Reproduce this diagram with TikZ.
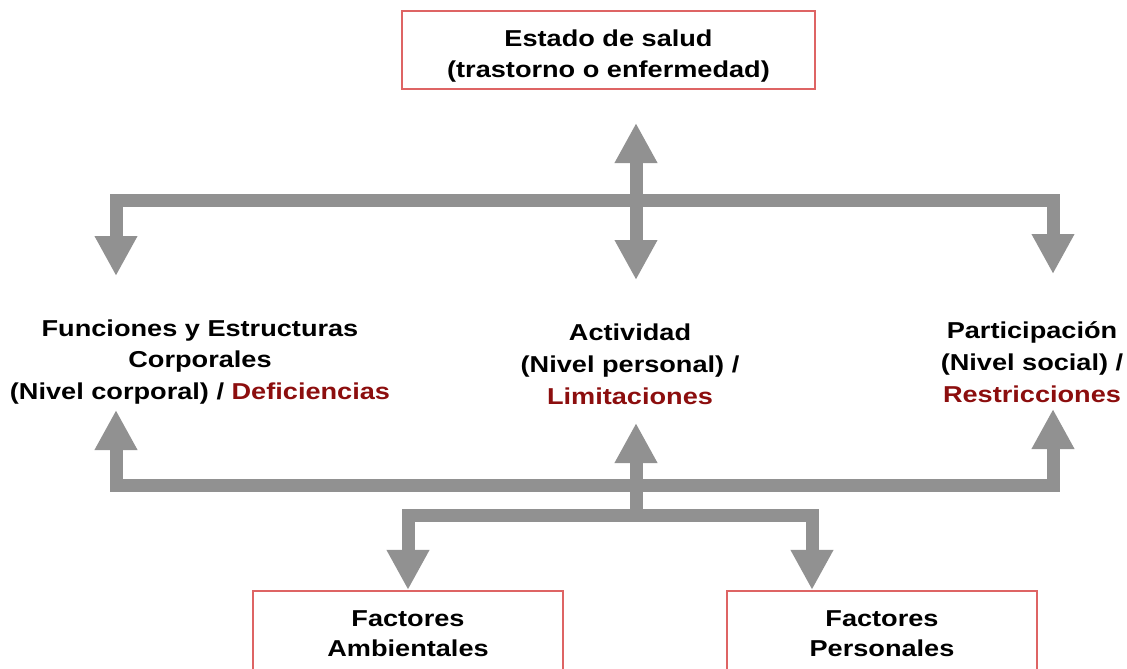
\documentclass[tikz,border=0pt]{standalone}
\usepackage{fontspec}
\setmainfont{Liberation Sans}[FakeStretch=1.18]
\usepackage{xcolor}
\usetikzlibrary{arrows.meta,positioning,calc}
\definecolor{boxred}{RGB}{222,100,100}
\definecolor{deepred}{RGB}{140,14,14}
\definecolor{flowgray}{RGB}{145,145,145}

\begin{document}
\begin{tikzpicture}[x=1pt, y=-1pt,
    box/.style={draw=boxred, line width=2.2pt, align=center, font=\fontsize{23}{30}\selectfont\bfseries, text=black, minimum width=310pt, minimum height=86pt},
    txt/.style={align=center, font=\fontsize{23}{31.8}\selectfont\bfseries, text=black, inner sep=0pt},
    flow/.style={draw=flowgray, line width=13pt, line join=miter, {Triangle[length=40pt, width=40pt]}-{Triangle[length=40pt, width=40pt]}},
    down/.style={flow, -{Triangle[length=40pt, width=40pt]}},
]
\useasboundingbox (0,0) rectangle (1127,669);

% Estado de salud
\node[box, minimum width=413pt, minimum height=78pt, inner sep=2pt, font=\fontsize{23}{31}\selectfont\bfseries] (salud) at (608.5,50) {\rule{0pt}{29pt}Estado de salud\\(trastorno o enfermedad)};

% Componentes
\node[txt] (func) at (200,362) {Funciones y Estructuras\\Corporales\\(Nivel corporal) / \textcolor{deepred}{Deficiencias}};
\node[txt] (act) at (630,364) {Actividad\\(Nivel personal) /\\\textcolor{deepred}{Limitaciones}};
\node[txt] (part) at (1032,362) {Participación\\(Nivel social) /\\\textcolor{deepred}{Restricciones}};

% Factores contextuales
\node[box] (amb) at (408,634) {Factores\\Ambientales};
\node[box] (pers) at (882,634) {Factores\\Personales};

% Puntos de union
\coordinate (hubT) at (636,200);
\coordinate (hubB) at (636,485);
\coordinate (hubF) at (636,515);
\coordinate (upS) at (636,123);
\coordinate (dnA) at (636,280);
\coordinate (dnF) at (116,276);
\coordinate (dnP) at (1053,274);
\coordinate (upF) at (116,410);
\coordinate (upP) at (1053,409);
\coordinate (upA) at (636,423);

% Flechas superiores
\draw[down] (hubT) -| (dnF);
\draw[down] (hubT) -| (dnP);
\draw[flow] (upS) -- (dnA);

% Flechas inferiores
\draw[down] (hubB) -| (upF);
\draw[down] (hubB) -| (upP);
\draw[down] (hubF) -- (upA);
\draw[down] (hubF) -| (amb.north);
\draw[down] (hubF) -| ([xshift=-70pt]pers.north);
\end{tikzpicture}
\end{document}
